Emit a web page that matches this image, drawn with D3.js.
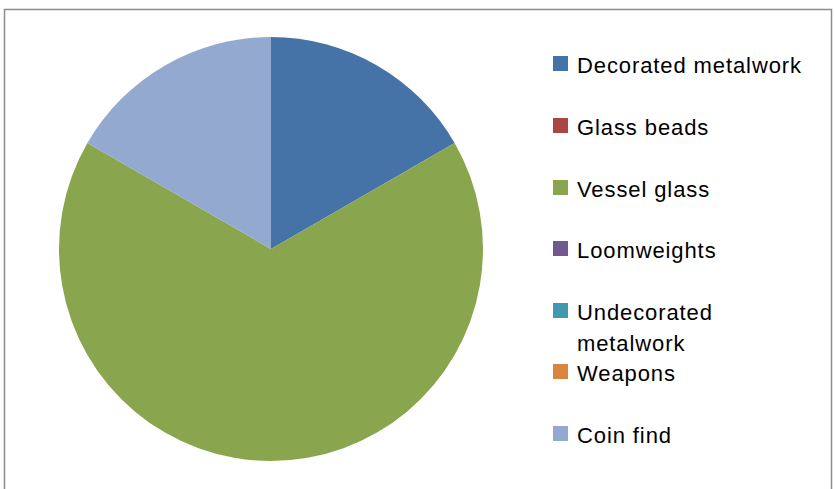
<!DOCTYPE html>
<html><head><meta charset="utf-8">
<script src="https://cdn.jsdelivr.net/npm/d3@7"></script>
<style>html,body{margin:0;padding:0;background:#fff;}svg{display:block;}</style>
</head><body>
<svg id="chart" width="835" height="489"></svg>
<script>
const categories = ["Decorated metalwork","Glass beads","Vessel glass","Loomweights","Undecorated metalwork","Weapons","Coin find"];
const values = [1, 0, 4, 0, 0, 0, 1];
const colors = ["#4572A7","#AA4643","#89A54E","#71588F","#4198AF","#DB843D","#93A9CF"];
const legendLines = [["Decorated metalwork"],["Glass beads"],["Vessel glass"],["Loomweights"],["Undecorated","metalwork"],["Weapons"],["Coin find"]];

const svg = d3.select("#chart");
svg.append("rect").attr("x",4.5).attr("y",9.5).attr("width",827).attr("height",500)
  .attr("fill","#fff").attr("stroke","#8c8c8c").attr("stroke-width",1.5);

const cx = 271, cy = 249, r = 212;
const pie = d3.pie().sort(null).value(d => d)(values);
const arc = d3.arc().innerRadius(0).outerRadius(r);
const color = d3.scaleOrdinal().domain(categories).range(colors);
svg.append("g").attr("transform",`translate(${cx},${cy})`)
  .selectAll("path").data(pie).join("path")
  .attr("d",arc).attr("fill",(d,i)=>color(categories[i]));

const legendY = [64, 126, 188, 249, 311, 372, 434];
const lg = svg.append("g");
categories.forEach((c,i)=>{
  const y = legendY[i];
  lg.append("rect").attr("x",553).attr("y",y-8).attr("width",15).attr("height",15).attr("fill",color(c));
  const t = lg.append("text").attr("x",577).attr("y",y+8.5)
    .attr("font-family","Liberation Sans, Arial, sans-serif").attr("font-size",22)
    .attr("letter-spacing",0.9).attr("fill","#000");
  legendLines[i].forEach((ln,j)=>{
    t.append("tspan").attr("x",577).attr("dy", j===0?0:31).text(ln);
  });
});
</script>
</body></html>
